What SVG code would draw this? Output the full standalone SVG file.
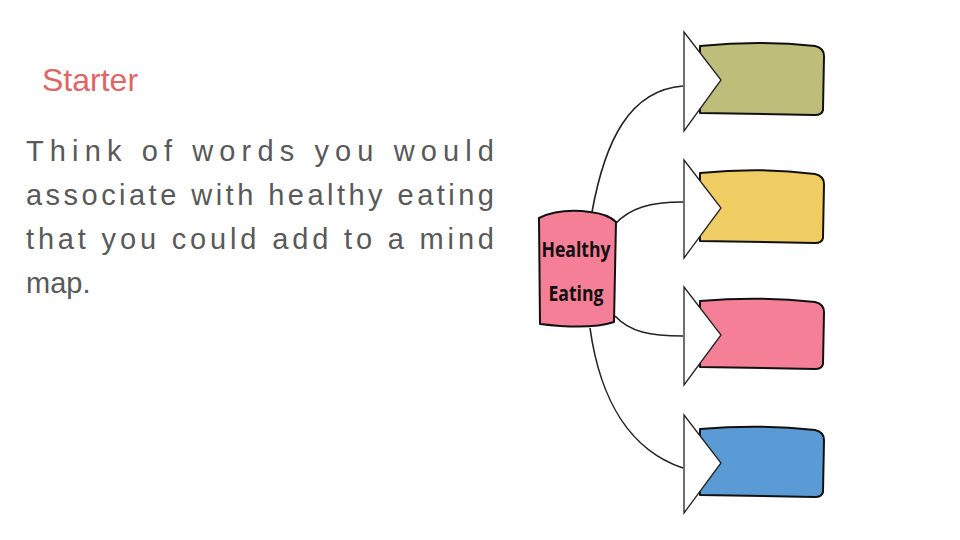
<svg xmlns="http://www.w3.org/2000/svg" width="960" height="540" viewBox="0 0 960 540">
<style>
.t{font-family:"Liberation Sans",Arial,sans-serif;fill:#595959;font-size:29px}
.s{stroke:#111;stroke-width:2;stroke-linejoin:round}
.c{fill:none;stroke:#222;stroke-width:1.6}
.a{fill:#fff;stroke:#222;stroke-width:1.3}
</style>
<rect width="960" height="540" fill="#fff"/>
<g id="title"><text x="42" y="91" font-family="Liberation Sans,Arial,sans-serif" font-size="32" fill="#e06666">Starter</text></g>
<g id="body">
<text class="t" x="26" y="161" textLength="468" lengthAdjust="spacing">Think of words you would</text>
<text class="t" x="26" y="205" textLength="468" lengthAdjust="spacing">associate with healthy eating</text>
<text class="t" x="26" y="249" textLength="468" lengthAdjust="spacing">that you could add to a mind</text>
<text class="t" x="26" y="293">map.</text>
</g>
<g id="connectors">
<path class="c" d="M592 212 C605 140 630 90 683 86"/>
<path class="c" d="M615 224 C630 208 650 202 683 202"/>
<path class="c" d="M615 316 C630 332 650 336 683 336"/>
<path class="c" d="M590 328 C600 400 630 450 683 468"/>
</g>
<g id="center">
<path class="s" fill="#f47f96" d="M539 218 Q560 208 590 212 Q608 214 616 222 L614 322 Q590 330 540 324 Z"/>
<text x="576" y="257" text-anchor="middle" font-family="Open Sans,DejaVu Sans Condensed,sans-serif" font-weight="bold" font-size="22" fill="#111" transform="translate(576 0) scale(0.8 1) translate(-576 0)">Healthy</text>
<text x="576" y="301" text-anchor="middle" font-family="Open Sans,DejaVu Sans Condensed,sans-serif" font-weight="bold" font-size="22" fill="#111" transform="translate(576 0) scale(0.8 1) translate(-576 0)">Eating</text>
</g>
<g id="branch1">
<path class="s" fill="#bfbd7a" d="M700 46 Q760 40 815 46 Q824 48 824 56 L823 110 Q822 115 815 115 L700 113 Z"/>
<path class="a" d="M684 32 L721 80 L684 131 Z"/>
</g>
<g id="branch2">
<path class="s" fill="#f0cd62" d="M700 173 Q760 167 815 174 Q824 176 824 184 L823 238 Q822 243 815 243 L700 241 Z"/>
<path class="a" d="M684 160 L721 208 L684 258 Z"/>
</g>
<g id="branch3">
<path class="s" fill="#f47f96" d="M700 301 Q760 296 815 302 Q824 304 824 312 L823 364 Q822 369 815 369 L700 367 Z"/>
<path class="a" d="M684 287 L721 335 L684 385 Z"/>
</g>
<g id="branch4">
<path class="s" fill="#5b9bd5" d="M700 429 Q760 424 815 430 Q824 432 824 440 L823 492 Q822 497 815 497 L700 495 Z"/>
<path class="a" d="M684 415 L721 463 L684 513 Z"/>
</g>
</svg>
